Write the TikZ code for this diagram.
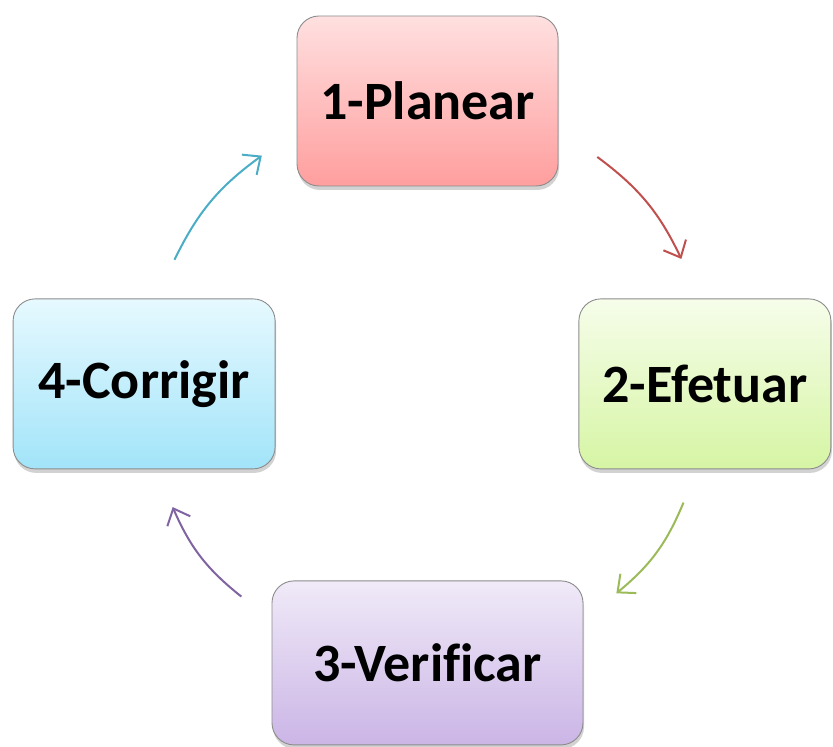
\documentclass[tikz,border=0pt]{standalone}
\usepackage{fontspec}
\setmainfont[Ligatures={NoCommon}]{Carlito}
\usetikzlibrary {arrows.meta,
                 positioning,
                 shadows}
\definecolor{planTop}{HTML}{FFE0E0}
\definecolor{planBot}{HTML}{FF9E9E}
\definecolor{efetTop}{HTML}{F6FDEA}
\definecolor{efetBot}{HTML}{D6F5A4}
\definecolor{verifTop}{HTML}{F0EAF8}
\definecolor{verifBot}{HTML}{CBB5E6}
\definecolor{corrTop}{HTML}{E6F9FF}
\definecolor{corrBot}{HTML}{A2E4F9}
\definecolor{redArr}{HTML}{C0504D}
\definecolor{greenArr}{HTML}{9BBB59}
\definecolor{purpleArr}{HTML}{8064A2}
\definecolor{cyanArr}{HTML}{4BACC6}
\tikzset{
        base/.style={draw=black!45, line width=0.9pt, rounded corners=22pt,
                     align=center, font=\fontsize{54}{60}\selectfont\bfseries,
                     drop shadow={shadow xshift=1pt, shadow yshift=-4pt,
                                  opacity=.25, fill=black!70}},
        phase/.style={base, minimum width=261pt, minimum height=170pt},
        cycarrow/.style={-{Straight Barb[length=14pt, width=25pt]},
                         line width=2pt, bend left=14},
 }

\begin{document}
\begin{tikzpicture}[x=1pt, y=1pt]
    \useasboundingbox (0,0) rectangle (833,747);

    \node[phase, top color=planTop, bottom color=planBot] (plan)
          at (427.5,646) {1-Planear};
    \node[phase, minimum width=252pt, top color=efetTop, bottom color=efetBot,
          below right=112pt and 20pt of plan] (efet) {2-Efetuar};
    \node[phase, minimum width=262pt, top color=corrTop, bottom color=corrBot,
          below left=112pt and 21pt of plan] (corr) {4-Corrigir};
    \node[phase, minimum width=311pt, minimum height=164pt,
          top color=verifTop, bottom color=verifBot,
          below=394pt of plan] (verif) {3-Verificar};

    % ends of the cycle arrows
    \coordinate (mid) at (427,364);
    \coordinate (r1) at ([shift={(53:283)}]mid);
    \coordinate (r2) at ([shift={(26:283)}]mid);
    \coordinate (g1) at ([shift={(-25:283)}]mid);
    \coordinate (g2) at ([shift={(-48:283)}]mid);
    \coordinate (p1) at ([shift={(-131:283)}]mid);
    \coordinate (p2) at ([shift={(-154:283)}]mid);
    \coordinate (c1) at ([shift={(154:281)}]mid);
    \coordinate (c2) at ([shift={(126:281)}]mid);

    \draw[cycarrow, redArr] (r1) to (r2);
    \draw[cycarrow, greenArr] (g1) to (g2);
    \draw[cycarrow, purpleArr] (p1) to (p2);
    \draw[cycarrow, cyanArr] (c1) to (c2);

\end{tikzpicture}
\end{document}
